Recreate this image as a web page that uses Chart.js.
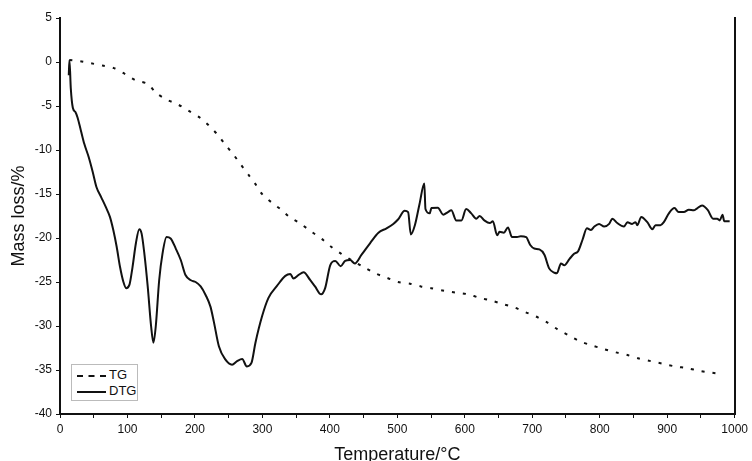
<!DOCTYPE html>
<html>
<head>
  <title>TG / DTG</title>
  <script src="https://cdn.jsdelivr.net/npm/chart.js@4.4.1/dist/chart.umd.min.js"></script>
  <style>
    body { margin: 0; background: #fff; }
    #wrap { position: relative; width: 752px; height: 461px; }
    #legend {
      position: absolute; left: 71px; top: 364px; width: 65px; height: 35px;
      border: 1px solid #bbb; background: #fff;
      font-family: "Liberation Sans", Arial, sans-serif; font-size: 13px; color: #111;
    }
    .row { position: absolute; left: 5px; height: 14px; line-height: 14px; }
    .sample { position: absolute; left: 0; top: 7px; width: 29px; }
    .lbl { position: absolute; left: 32px; top: 0; }
    #tgRow { top: 3px; }
    #dtgRow { top: 19px; }
    #tgRow .sample { border-top: 2px dashed #111; }
    #dtgRow .sample { border-top: 2px solid #111; }
  </style>
</head>
<body>
<div id="wrap">
  <canvas id="chart" width="752" height="461"></canvas>
  <div id="legend">
    <div class="row" id="tgRow"><span class="sample"></span><span class="lbl">TG</span></div>
    <div class="row" id="dtgRow"><span class="sample"></span><span class="lbl">DTG</span></div>
  </div>
</div>
<script>
  // values
  const tgTemp = [14, 29, 46, 63, 80, 97, 112, 130, 143, 159, 174, 190, 208, 222, 234, 245, 257, 268, 279, 290,
    300, 314, 329, 340, 357, 373, 388, 402, 417, 432, 450, 467, 484, 501, 519, 535, 550, 570, 587, 605,
    622, 639, 656, 674, 689, 705, 722, 738, 755, 771, 788, 805, 824, 841, 858, 876, 894, 912, 930, 948, 965, 983];
  const tgMass = [0.23, 0.1, -0.15, -0.4, -0.7, -1.4, -2.07, -2.5, -3.55, -4.3, -4.8, -5.5, -6.37, -7.32, -8.29, -9.39, -10.52, -11.65, -12.78, -13.91,
    -15.05, -15.98, -16.85, -17.6, -18.4, -19.3, -20.1, -21.0, -21.8, -22.5, -23.3, -24.0, -24.5, -25.0, -25.2, -25.5, -25.7, -26.0, -26.2, -26.4,
    -26.8, -27.1, -27.5, -27.9, -28.4, -28.9, -29.6, -30.4, -31.1, -31.75, -32.2, -32.6, -33.0, -33.3, -33.7, -34.0, -34.3, -34.6, -34.8, -35.1, -35.3, -35.5];

  const dtgTemp = [13, 14, 16, 19, 23, 26, 31, 36, 42.5, 48.5, 54, 61, 68, 74, 79, 84, 89, 94, 98, 103,
    107.5, 112.5, 117.5, 121, 125, 130, 135, 138.5, 142, 147, 152, 158, 164, 171.6, 179, 186, 194, 201, 208.5, 216,
    223, 228, 235.5, 245, 255, 262.5, 270, 277, 283.8, 289.7, 299.5, 309, 321.6, 334, 341.4, 346, 353.7, 361, 371, 378,
    387, 393, 400.5, 408, 416, 422.6, 430, 437, 447, 459.5, 472, 484, 494, 501, 511, 516, 520, 526, 533, 540,
    541.7, 548, 550.5, 560, 568, 575, 580, 587.4, 595, 602, 609.6, 617, 622, 629, 637, 641.6, 648, 651.5, 658, 664,
    670, 677.5, 683, 691, 697, 703, 710.6, 718, 725, 733, 736.6, 742.5, 747.5, 755, 762, 768, 774.5, 781, 787, 792,
    799, 806.6, 814, 818.8, 826, 836, 841, 848, 853, 855.7, 861.6, 870.5, 878, 882.7, 890, 895, 902.5, 910.8, 917, 924.7,
    932, 939.5, 944, 951.7, 960, 968, 974, 978, 982, 984.6, 992.6];
  const dtgMass = [-1.5, 0.2, -3, -5.2, -5.7, -6.3, -7.8, -9.3, -10.8, -12.5, -14.2, -15.35, -16.5, -17.6, -19.1, -21.0, -23.3, -25.0, -25.7, -25.3,
    -23.3, -20.6, -19.0, -19.5, -21.75, -25.5, -30, -31.9, -30, -24.8, -21.75, -19.9, -20.05, -21.2, -22.5, -24.2, -24.8, -25.0, -25.5, -26.5,
    -27.8, -29.5, -32.3, -33.8, -34.4, -34.0, -33.75, -34.6, -34.2, -31.9, -28.9, -26.8, -25.45, -24.3, -24.1, -24.6, -24.2, -23.9, -24.8, -25.5,
    -26.4, -25.7, -23.1, -22.6, -23.2, -22.6, -22.5, -22.9, -21.9, -20.6, -19.4, -18.9, -18.4, -17.9, -16.9, -17.05, -19.6, -18.55, -16.1, -13.8,
    -16.7, -17.2, -16.6, -16.55, -17.35, -17.05, -16.85, -18.0, -18.0, -16.7, -17.2, -17.8, -17.5, -18.0, -18.3, -18.1, -19.7, -19.3, -19.4, -18.8,
    -19.9, -19.9, -19.8, -19.9, -20.8, -21.2, -21.3, -21.9, -23.45, -23.95, -24.0, -22.9, -23.1, -22.4, -21.8, -21.5, -20.2, -18.9, -19.1, -18.7,
    -18.4, -18.7, -18.4, -17.8, -18.3, -18.7, -18.2, -18.4, -18.2, -18.55, -17.6, -18.2, -19.0, -18.55, -18.55, -18.2, -17.2, -16.6, -17.05, -17.05,
    -16.8, -16.85, -16.65, -16.3, -16.8, -17.8, -17.8, -18.0, -17.35, -18.1, -18.1];

  const xMin = 0, xMax = 1000, xStep = 50;
  const yMin = -40, yMax = 5, yStep = 5;

  const toPoints = (xs, ys) => xs.map((x, i) => ({ x: x, y: ys[i] }));
  const family = '"Liberation Sans", Arial, sans-serif';
  const font = { family: family, size: 12 };
  const ink = '#111';

  new Chart(document.getElementById('chart').getContext('2d'), {
    type: 'line',
    data: {
      datasets: [{
        label: 'TG',
        data: toPoints(tgTemp, tgMass),
        borderColor: ink,
        borderWidth: 2,
        borderDash: [3, 8],
        pointRadius: 0,
        tension: 0.3,
        fill: false
      }, {
        label: 'DTG',
        data: toPoints(dtgTemp, dtgMass),
        borderColor: ink,
        borderWidth: 2,
        pointRadius: 0,
        cubicInterpolationMode: 'monotone',
        fill: false
      }]
    },
    options: {
      responsive: false,
      animation: false,
      layout: { padding: { top: 18, right: 13, bottom: 0, left: 0 } },
      plugins: { legend: { display: false }, tooltip: { enabled: false } },
      scales: {
        x: {
          type: 'linear',
          min: xMin, max: xMax,
          afterFit: s => { s.height = 47; },
          ticks: {
            stepSize: xStep, autoSkip: false, maxRotation: 0, color: ink, font: font, padding: 4,
            callback: v => (v % 100 === 0 ? v : '')
          },
          grid: { drawOnChartArea: false, drawTicks: true, tickLength: 4, color: ink },
          border: { color: ink, width: 2 },
          title: { display: true, text: 'Temperature/°C', color: ink, padding: { top: 1, bottom: -5 },
            font: { family: family, size: 18 } }
        },
        y: {
          min: yMin, max: yMax,
          afterFit: s => { s.width = 60; },
          ticks: { stepSize: yStep, color: ink, font: font, padding: 4 },
          grid: { drawOnChartArea: false, drawTicks: true, tickLength: 4, color: ink },
          border: { color: ink, width: 2 },
          title: { display: true, text: 'Mass loss/%', color: ink, padding: { top: 8, bottom: 0 },
            font: { family: family, size: 18 } }
        },
        yr: {
          position: 'right',
          min: yMin, max: yMax,
          afterFit: s => { s.width = 0; },
          ticks: { display: false },
          grid: { drawOnChartArea: false, drawTicks: false },
          border: { color: ink, width: 2 }
        }
      }
    }
  });
</script>
</body>
</html>
